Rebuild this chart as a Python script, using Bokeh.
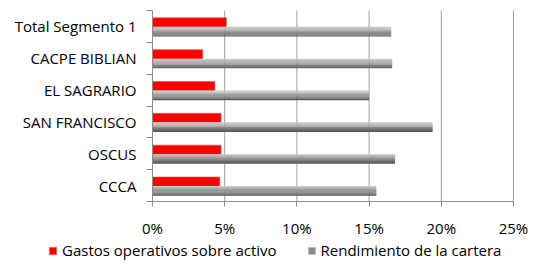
from bokeh.plotting import figure
from bokeh.models import ColumnDataSource, FixedTicker, NumeralTickFormatter, Legend, LegendItem, Range1d
from bokeh.transform import dodge
from bokeh.embed import file_html
from bokeh.resources import INLINE

# Data (bottom to top)
categories = ["CCCA", "OSCUS", "SAN FRANCISCO", "EL SAGRARIO", "CACPE BIBLIAN", "Total Segmento 1"]
gastos = [0.0466, 0.0475, 0.0475, 0.0432, 0.0348, 0.0512]
rendimiento = [0.155, 0.168, 0.194, 0.150, 0.166, 0.1653]
x_ticks = [0, 0.05, 0.10, 0.15, 0.20, 0.25]
series_names = ["Gastos operativos sobre activo", "Rendimiento de la cartera"]

FONT = "Open Sans"
FS = "15px"
RED = "#ff0000"
AXIS = "#8c8c8c"
ncat = len(categories)
ypos = [i + 0.5 for i in range(ncat)]
src = ColumnDataSource(dict(y=ypos, cat=categories, gastos=gastos, rend=rendimiento))

# layout geometry (pixels) -> ranges so that the frame covers the whole canvas
W, H = 529, 260
x0_px, x1_px = 152, 513          # 0% and 25% positions
ytop_px, ybot_px = 10, 201       # top of first band, bottom of last band
xs = (x1_px - x0_px) / (x_ticks[-1] - x_ticks[0])
ys = (ybot_px - ytop_px) / ncat
x_range = Range1d(x_ticks[0] - x0_px / xs, x_ticks[-1] + (W - x1_px) / xs)
y_range = Range1d(-(H - ybot_px) / ys, ncat + ytop_px / ys)

p = figure(width=W, height=H, output_backend="svg", toolbar_location=None,
           x_range=x_range, y_range=y_range, min_border=0)
p.outline_line_color = None
p.grid.visible = False

# vertical gridlines at the tick values, spanning the category bands
p.segment(x0=x_ticks[1:], y0=0, x1=x_ticks[1:], y1=ncat, line_color="#a0a0a0", line_width=1)

bar_h = 0.29
red = p.hbar(y=dodge("y", 0.125, range=p.y_range), left=0, right="gastos", height=bar_h,
             source=src, fill_color=RED, line_color="#ff4848", line_width=0.6)

# gray bar with vertical gradient (light top -> dark bottom) built from strips
n = 10
gh = 0.30
gc = -0.165
strips = []
for k in range(n):
    off = gc + gh / 2 - (k + 0.5) * gh / n
    v = int(round(200 - (200 - 88) * k / (n - 1)))
    col = "#%02x%02x%02x" % (v, v, v)
    strips.append(p.hbar(y=dodge("y", off, range=p.y_range), left=0, right="rend",
                         height=gh / n + 0.004, source=src, fill_color=col, line_color=None))

# axes placed at data 0
p.xaxis.fixed_location = 0
p.xaxis.bounds = (x_ticks[0], x_ticks[-1])
p.xaxis.ticker = FixedTicker(ticks=x_ticks)
p.xaxis.formatter = NumeralTickFormatter(format="0%")
p.xaxis.major_tick_out = 5
p.xaxis.major_tick_in = 0
p.xaxis.minor_tick_out = 0
p.xaxis.minor_tick_in = 0
p.xaxis.major_label_standoff = 11
p.xaxis.axis_line_color = AXIS
p.xaxis.major_tick_line_color = AXIS
p.xaxis.major_label_text_font = FONT
p.xaxis.major_label_text_font_size = FS
p.xaxis.major_label_text_color = "#000000"

p.yaxis.fixed_location = 0
p.yaxis.bounds = (0, ncat)
p.yaxis.ticker = FixedTicker(ticks=ypos, minor_ticks=list(range(ncat + 1)))
p.yaxis.major_label_overrides = {y: c for y, c in zip(ypos, categories)}
p.yaxis.major_tick_out = 0
p.yaxis.major_tick_in = 0
p.yaxis.minor_tick_out = 6
p.yaxis.minor_tick_in = 0
p.yaxis.minor_tick_line_color = AXIS
p.yaxis.axis_line_color = AXIS
p.yaxis.major_label_standoff = 10
p.yaxis.major_label_text_font = FONT
p.yaxis.major_label_text_font_size = FS
p.yaxis.major_label_text_color = "#000000"

legend = Legend(items=[LegendItem(label=series_names[0], renderers=[red]),
                       LegendItem(label=series_names[1], renderers=[strips[n // 2]])],
                orientation="horizontal", location=(48, 0),
                glyph_width=9, glyph_height=9, label_standoff=5, spacing=30,
                padding=0, margin=0, border_line_color=None, background_fill_alpha=0,
                label_text_font=FONT, label_text_font_size=FS, label_text_color="#000000",
                label_height=10)
p.add_layout(legend, "center")

open("out.html", "w").write(file_html(p, INLINE))
